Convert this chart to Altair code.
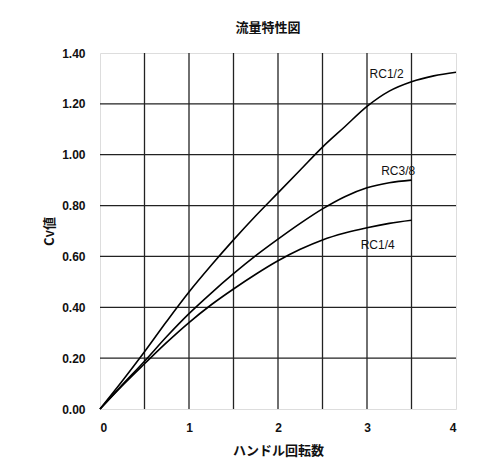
import altair as alt
import pandas as pd

turns = [0, 0.25, 0.5, 0.75, 1.0, 1.25, 1.5, 1.75, 2.0, 2.25, 2.5, 2.75, 3.0, 3.25, 3.5, 3.75, 4.0]
rc12 = [0, 0.11, 0.225, 0.345, 0.46, 0.565, 0.665, 0.76, 0.85, 0.94, 1.03, 1.11, 1.19, 1.25, 1.287, 1.31, 1.324]
turns_s = [0, 0.25, 0.5, 0.75, 1.0, 1.25, 1.5, 1.75, 2.0, 2.25, 2.5, 2.75, 3.0, 3.25, 3.5]
rc38 = [0, 0.095, 0.188, 0.285, 0.375, 0.456, 0.532, 0.603, 0.668, 0.73, 0.787, 0.835, 0.87, 0.89, 0.90]
rc14 = [0, 0.092, 0.178, 0.262, 0.34, 0.41, 0.472, 0.53, 0.583, 0.628, 0.665, 0.692, 0.713, 0.73, 0.742]

series_names = ["RC1/2", "RC3/8", "RC1/4"]
label_x = [3.22, 3.35, 3.12]
label_y = [1.316, 0.937, 0.646]

rows = []
for t, v in zip(turns, rc12):
    rows.append({"turns": t, "cv": v, "series": "RC1/2"})
for t, v in zip(turns_s, rc38):
    rows.append({"turns": t, "cv": v, "series": "RC3/8"})
for t, v in zip(turns_s, rc14):
    rows.append({"turns": t, "cv": v, "series": "RC1/4"})
df = pd.DataFrame(rows)
labels = pd.DataFrame({"name": series_names, "x": label_x, "y": label_y})

xgrid = pd.DataFrame({"x": [0.5, 1, 1.5, 2, 2.5, 3, 3.5]})
ygrid = pd.DataFrame({"y": [0.2, 0.4, 0.6, 0.8, 1.0, 1.2]})

xs = alt.Scale(domain=[0, 4], nice=False)
ys = alt.Scale(domain=[0, 1.4], nice=False)

base_font = "Liberation Sans"

vgrid = alt.Chart(xgrid).mark_rule(color="#222", strokeWidth=1.3).encode(
    x=alt.X("x:Q", scale=xs)
)
hgrid = alt.Chart(ygrid).mark_rule(color="#222", strokeWidth=1.3).encode(
    y=alt.Y("y:Q", scale=ys)
)

lines = alt.Chart(df).mark_line(color="black", strokeWidth=1.6, interpolate="monotone").encode(
    x=alt.X("turns:Q", scale=xs,
            axis=alt.Axis(values=[0, 1, 2, 3, 4], format="d", title="ハンドル回転数",
                          grid=False, ticks=False, domain=False, labelPadding=13,
                          labelFontSize=12, labelFont=base_font, labelFontWeight="bold",
                          labelColor="#111", titleFont="Noto Sans CJK JP", titleFontSize=13,
                          titleFontWeight="bold", titleColor="#111", titlePadding=11)),
    y=alt.Y("cv:Q", scale=ys,
            axis=alt.Axis(values=[0, 0.2, 0.4, 0.6, 0.8, 1.0, 1.2, 1.4], format=".2f", title="Cv値",
                          grid=False, ticks=False, domain=False, labelPadding=15,
                          labelFontSize=12, labelFont=base_font, labelFontWeight="bold",
                          labelColor="#111", titleFont="Noto Sans CJK JP", titleFontSize=13,
                          titleFontWeight="bold", titleColor="#111", titlePadding=5)),
    detail="series:N",
)

text = alt.Chart(labels).mark_text(fontSize=12, font=base_font, color="#111").encode(
    x=alt.X("x:Q", scale=xs), y=alt.Y("y:Q", scale=ys), text="name:N"
)

chart = alt.layer(vgrid, hgrid, lines, text).properties(
    width=356, height=356,
    title=alt.TitleParams("流量特性図", font="Noto Sans CJK JP", fontSize=13, fontWeight="bold",
                          color="#111", dx=-10, offset=12),
    autosize=alt.AutoSizeParams(type="none"),
    padding={"left": 92, "top": 45, "right": 30, "bottom": 50},
).configure_view(stroke="#111", strokeWidth=1.5).configure(background="white")

chart.save("out.html", embed_options={"renderer": "svg", "actions": False})
